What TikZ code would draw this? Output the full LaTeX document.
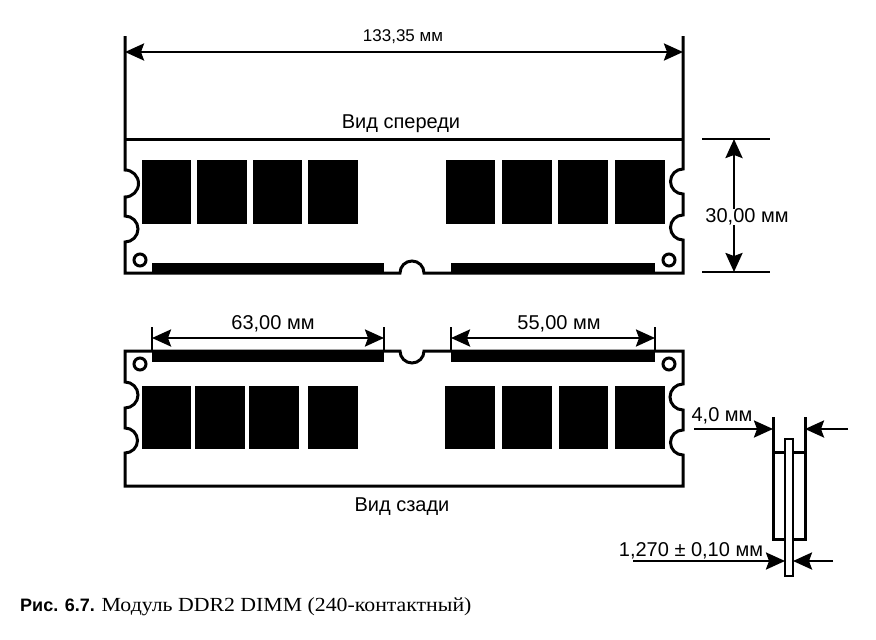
\documentclass[tikz,border=0pt]{standalone}
\usepackage{fontspec}
\setmainfont{Liberation Sans}
\newfontfamily\capserif[FakeStretch=1.09]{Liberation Serif}
\usetikzlibrary{arrows.meta}
\tikzset{
  board/.style={line width=3pt,line join=miter},
  chip/.style={fill=black,draw=none},
  dimline/.style={line width=2.6pt,{Stealth[length=19pt,width=17pt,inset=3pt]}-{Stealth[length=19pt,width=17pt,inset=3pt]}},
  dimto/.style={line width=2.6pt,-{Stealth[length=19pt,width=17pt,inset=3pt]}},
  tickline/.style={line width=2.8pt},
  dimtext/.style={font=\fontsize{20}{22}\selectfont,inner sep=0pt}
}
\begin{document}
\begin{tikzpicture}[x=1pt,y=-1pt]
  \useasboundingbox (0,0) rectangle (876,640);
  % front view
  \draw[board] (125,36) -- (125,170) arc[start angle=-90,end angle=90,radius=13.5]
    -- (125,216) arc[start angle=-90,end angle=90,radius=13] -- (125,273)
    -- (400,273) arc[start angle=180,end angle=360,radius=12] -- (683,273)
    -- (683,240) arc[start angle=90,end angle=270,radius=12.5]
    -- (683,194) arc[start angle=90,end angle=270,radius=12.5] -- (683,36);
  \draw[board] (125,139) -- (683,139);
  \foreach \xa/\xb in {142/191,197/247,253/302,308/358,446/495,502/552,558/608,615/665}{
    \fill[chip] (\xa,160) rectangle (\xb,224);
  }
  \fill[chip] (152,263) rectangle (384,274);
  \fill[chip] (451,263) rectangle (655,274);
  \draw[line width=3pt] (140,260) circle (6);
  \draw[line width=3pt] (669,260) circle (6);
  % back view
  \draw[board] (125,351) -- (125,382) arc[start angle=-90,end angle=90,radius=13]
    -- (125,428) arc[start angle=-90,end angle=90,radius=12.5] -- (125,486)
    -- (683,486) -- (683,455) arc[start angle=90,end angle=270,radius=12.5]
    -- (683,410) arc[start angle=90,end angle=270,radius=13]
    -- (683,351) -- (424,351) arc[start angle=0,end angle=180,radius=12] -- cycle;
  \foreach \xa/\xb in {142/191,195/245,249/299,308/358,445/495,502/552,559/608,615/665}{
    \fill[chip] (\xa,386) rectangle (\xb,449);
  }
  \fill[chip] (152,350) rectangle (384,362);
  \fill[chip] (451,350) rectangle (655,362);
  \draw[line width=3pt] (140,364) circle (6);
  \draw[line width=3pt] (669,364) circle (6);
  % side view
  \draw[board] (773,417) -- (773,539) -- (805,539) -- (805,417);
  \draw[board] (773,452) -- (785,452) (793,452) -- (805,452);
  \draw[line width=2.8pt,fill=white] (785,439) rectangle (793,576);
  % dimensions
  \coordinate (widthl) at (125,52);
  \coordinate (widthr) at (683,52);
  \draw[dimline] (widthl) -- (widthr);
  \node[dimtext,font=\fontsize{17}{20}\selectfont] (widthtext) at (403,37) {133,35 мм};
  \node[dimtext] (fronttext) at (401,124) {Вид спереди};
  \node[dimtext] (backtext) at (402,507) {Вид сзади};
  \coordinate (heighta) at (702,139);
  \coordinate (heightb) at (770,139);
  \coordinate (heightc) at (702,272);
  \coordinate (heightd) at (770,272);
  \coordinate (heightt) at (734,139);
  \coordinate (heightm) at (734,272);
  \draw[tickline] (heighta) -- (heightb);
  \draw[tickline] (heightc) -- (heightd);
  \node[dimtext] (heighttext) at (747,217) {30,00 мм};
  \draw[dimto] (heightt |- heighttext.north) -- (heightt);
  \draw[dimto] (heightm |- heighttext.south) -- (heightm);
  \foreach \xa/\xb/\lab/\tx in {152/384/{63,00 мм}/273,451/655/{55,00 мм}/559}{
    \coordinate (tick\xa) at (\xa,327);
    \coordinate (tick\xb) at (\xb,327);
    \draw[tickline] (tick\xa) -- (\xa,351);
    \draw[tickline] (tick\xb) -- (\xb,351);
    \coordinate (arrow\xa) at (\xa,338);
    \coordinate (arrow\xb) at (\xb,338);
    \draw[dimline] (arrow\xa) -- (arrow\xb);
    \node[dimtext] (text\xa) at (\tx,324) {\lab};
  }
  \coordinate (sidea) at (694,429);
  \coordinate (sideb) at (773,429);
  \coordinate (sidec) at (848,429);
  \coordinate (sided) at (805,429);
  \draw[dimto] (sidea) -- (sideb);
  \draw[dimto] (sidec) -- (sided);
  \node[dimtext] (sidetext) at (722,416) {4,0 мм};
  \coordinate (pcba) at (633,561);
  \coordinate (pcbb) at (785,561);
  \coordinate (pcbc) at (833,561);
  \coordinate (pcbd) at (793,561);
  \draw[dimto] (pcba) -- (pcbb);
  \draw[dimto] (pcbc) -- (pcbd);
  \node[dimtext] (pcbtext) at (691,551) {1,270 ± 0,10 мм};
  % caption
  \node[anchor=west,inner sep=0pt,font=\fontsize{18}{20}\selectfont] (caption) at (20,607)
    {\textbf{Рис. 6.7.} {\fontsize{20}{20}\selectfont\capserif Модуль DDR2 DIMM (240-контактный)}};
\end{tikzpicture}
\end{document}
